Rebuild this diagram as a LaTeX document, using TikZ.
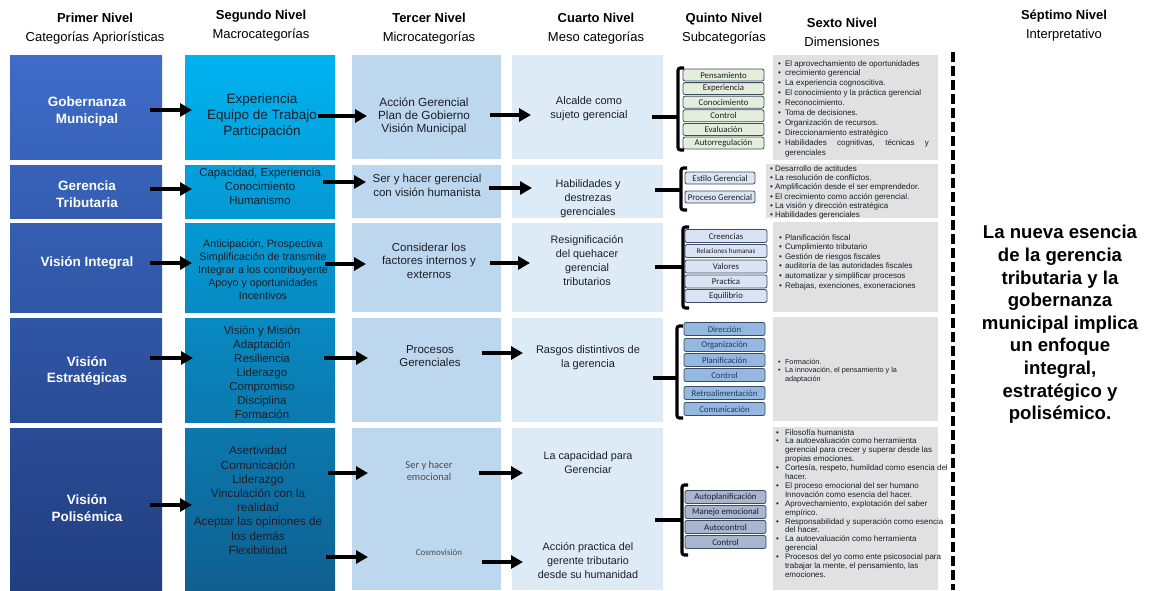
\documentclass[tikz,border=0pt]{standalone}
\usepackage{fontspec}
\setmainfont{Liberation Sans}
\newfontfamily\carl{Carlito}
\usetikzlibrary{arrows.meta,fit}
\definecolor{C1T}{RGB}{62,108,200}
\definecolor{C1B}{RGB}{33,62,128}
\definecolor{C2T}{RGB}{0,178,240}
\definecolor{C2B}{RGB}{16,96,145}
\definecolor{C3}{RGB}{189,215,238}
\definecolor{C4}{RGB}{221,235,247}
\definecolor{C6}{RGB}{225,225,225}
\definecolor{TXT}{RGB}{28,30,40}
\definecolor{SBd}{RGB}{60,75,100}
\definecolor{Q1}{RGB}{227,239,218}
\definecolor{Q2}{RGB}{220,230,242}
\definecolor{Q3}{RGB}{218,227,243}
\definecolor{Q4}{RGB}{149,184,224}
\definecolor{Q5}{RGB}{168,182,208}
\definecolor{Q4T}{RGB}{31,56,100}
\newcommand{\fs}[2]{\fontsize{#1}{#2}\selectfont}
\newcommand{\bu}[1]{\makebox[#1][l]{\textbullet}}
\newcommand{\sxt}[3]{\vtop{\fs{#1}{#2}\hsize=180pt\parindent=0pt\parskip=0pt #3}}
\begin{document}
\begin{tikzpicture}[x=1pt,y=-1pt,
  every node/.style={inner sep=0pt, outer sep=0pt},
  cA/.style n args={2}{inner sep=0pt, top color=C1B!#1!C1T, bottom color=C1B!#2!C1T},
  cB/.style n args={2}{inner sep=0pt, top color=C2B!#1!C2T, bottom color=C2B!#2!C2T},
  cC/.style={inner sep=0pt, fill=C3},
  cD/.style={inner sep=0pt, fill=C4},
  cF/.style={inner sep=0pt, fill=C6},
  hdr/.style={align=center, font=\fs{13}{19}},
  tA/.style={align=center, text=white, font=\fs{13.5}{16.5}\bfseries},
  tB/.style={align=center, text=TXT},
  arr/.style={line width=4.2pt, -{Triangle[length=12pt,width=13pt]}},
  brk/.style={line width=3.2pt, rounded corners=2.5pt},
  qbox/.style={draw=SBd, line width=0.8pt, rounded corners=2pt, inner sep=0pt, text=TXT, font=\carl\fs{8.8}{10}},
  sixt/.style={anchor=base west, text=TXT}
]
\useasboundingbox (0,0) rectangle (1158,590);
\fill[white] (0,0) rectangle (1158,590);

% headers
\node[hdr] (h1) at (95,28.5) {\textbf{Primer Nivel}\\Categorías Apriorísticas};
\node[hdr] (h2) at (261,26) {\textbf{Segundo Nivel}\\Macrocategorías};
\node[hdr] (h3) at (429,28.5) {\textbf{Tercer Nivel}\\Microcategorías};
\node[hdr] (h4) at (596,28.5) {\textbf{Cuarto Nivel}\\Meso categorías};
\node[hdr] (h5) at (724,28.5) {\textbf{Quinto Nivel}\\Subcategorías};
\node[hdr] (h6) at (842,32.5) {\textbf{Sexto Nivel}\\Dimensiones};
\node[hdr] (h7) at (1064,26) {\textbf{Séptimo Nivel}\\Interpretativo};

% column 1
\node[cA={0}{19}, fit={(10,55)(162,159)}] (p1) {};
\node[cA={21}{31}, fit={(10,165)(162,218)}] (p2) {};
\node[cA={31}{48}, fit={(10,223)(162,312)}] (p3) {};
\node[cA={49}{69}, fit={(10,318)(162,422)}] (p4) {};
\node[cA={70}{100}, fit={(10,428)(162,590)}] (p5) {};
% column 2
\node[cB={0}{19}, fit={(185,55)(335,159)}] (m1) {};
\node[cB={21}{31}, fit={(185,165)(335,218)}] (m2) {};
\node[cB={31}{48}, fit={(185,223)(335,312)}] (m3) {};
\node[cB={49}{69}, fit={(185,318)(335,422)}] (m4) {};
\node[cB={70}{100}, fit={(185,428)(335,590)}] (m5) {};
% column 3
\node[cC, fit={(352,55)(501,159)}] (c1) {};
\node[cC, fit={(352,165)(501,218)}] (c2) {};
\node[cC, fit={(352,223)(501,312)}] (c3) {};
\node[cC, fit={(352,318)(501,422)}] (c4) {};
\node[cC, fit={(352,428)(501,590)}] (c5) {};
% column 4
\node[cD, fit={(512,55)(663,159)}] (d1) {};
\node[cD, fit={(512,165)(663,218)}] (d2) {};
\node[cD, fit={(512,223)(663,312)}] (d3) {};
\node[cD, fit={(512,318)(663,422)}] (d4) {};
\node[cD, fit={(512,428)(663,590)}] (d5) {};
% column 6
\node[cF, fit={(773,55)(938,160)}] (s1) {};
\node[cF, fit={(766,164)(938,218)}] (s2) {};
\node[cF, fit={(773,222)(938,312)}] (s3) {};
\node[cF, fit={(773,317)(938,421)}] (s4) {};
\node[cF, fit={(773,427)(938,590)}] (s5) {};

% column 1 texts
\node[tA] (pt1) at (87,111.5) {Gobernanza\\Municipal};
\node[tA] (pt2) at (87,194) {Gerencia\\Tributaria};
\node[tA] (pt3) at (87,263) {Visión Integral};
\node[tA] (pt4) at (87,371) {Visión\\Estratégicas};
\node[tA] (pt5) at (87,508) {Visión\\Polisémica};

% column 2 texts
\node[tB, font=\fs{13.5}{16}] (mt1) at (262,116) {Experiencia\\Equipo de Trabajo\\Participación};
\node[tB, font=\fs{11.5}{14}] (mt2) at (260,186) {Capacidad, Experiencia\\Conocimiento\\Humanismo};
\node[tB, font=\fs{10.7}{13}] (mt3) at (263,270) {Anticipación, Prospectiva\\Simplificación de transmite\\Integrar a los contribuyente\\Apoyo y oportunidades\\Incentivos};
\node[tB, font=\fs{11.5}{14}] (mt4) at (262,372.5) {Visión y Misión\\Adaptación\\Resiliencia\\Liderazgo\\Compromiso\\Disciplina\\Formación};
\node[tB, font=\fs{11.7}{14.2}] (mt5) at (258,500.5) {Asertividad\\Comunicación\\Liderazgo\\Vinculación con la\\realidad\\Aceptar las opiniones de\\los demás\\Flexibilidad};

% column 3 texts
\node[tB, font=\fs{11.8}{13}] (ct1) at (424,116) {Acción Gerencial\\Plan de Gobierno\\Visión Municipal};
\node[tB, font=\fs{11.5}{14}] (ct2) at (427,185) {Ser y hacer gerencial\\con visión humanista};
\node[tB, font=\fs{11.5}{13.5}] (ct3) at (429,260.5) {Considerar los\\factores internos y\\externos};
\node[tB, font=\fs{11.5}{13}] (ct4) at (430,356.5) {Procesos\\Gerenciales};
\node[align=center, text=black!70, font=\carl\fs{10.5}{12}] (ct5a) at (429,471) {Ser y hacer\\emocional};
\node[align=center, text=black!70, font=\carl\fs{9}{11}] (ct5b) at (439,552) {Cosmovisión};

% column 4 texts
\node[tB, font=\fs{11}{14}] (dt1) at (589,109) {Alcalde como\\sujeto gerencial};
\node[tB, font=\fs{10.8}{14}] (dt2) at (588,199) {Habilidades y\\destrezas\\gerenciales};
\node[tB, font=\fs{10.8}{14}] (dt3) at (587,261) {Resignificación\\del quehacer\\gerencial\\tributarios};
\node[tB, font=\fs{11}{14.5}] (dt4) at (588,357.5) {Rasgos distintivos de\\la gerencia};
\node[tB, font=\fs{10.8}{13.5}] (dt5a) at (588,462.5) {La capacidad para\\Gerenciar};
\node[tB, font=\fs{10.8}{14}] (dt5b) at (588,561) {Acción practica del\\gerente tributario\\desde su humanidad};

% arrows
\coordinate (a1s) at (150,110); \coordinate (a1e) at (192,110);
\coordinate (b1s) at (318,116); \coordinate (b1e) at (367,116);
\coordinate (c1s) at (490,115); \coordinate (c1e) at (531,115);
\coordinate (a2s) at (150,189); \coordinate (a2e) at (192,189);
\coordinate (b2s) at (323,182); \coordinate (b2e) at (366,182);
\coordinate (c2s) at (489,188); \coordinate (c2e) at (532,188);
\coordinate (a3s) at (150,263); \coordinate (a3e) at (192,263);
\coordinate (b3s) at (325,264); \coordinate (b3e) at (366,264);
\coordinate (c3s) at (490,263); \coordinate (c3e) at (530,263);
\coordinate (a4s) at (150,358); \coordinate (a4e) at (193,358);
\coordinate (b4s) at (324,358); \coordinate (b4e) at (368,358);
\coordinate (c4s) at (482,353); \coordinate (c4e) at (523,353);
\coordinate (a5s) at (150,505); \coordinate (a5e) at (192,505);
\coordinate (b5s) at (328,473); \coordinate (b5e) at (368,473);
\coordinate (b6s) at (326,557); \coordinate (b6e) at (368,557);
\coordinate (c5s) at (479,473); \coordinate (c5e) at (523,473);
\coordinate (c6s) at (482,562); \coordinate (c6e) at (523,562);
\foreach \s in {a1,b1,c1,a2,b2,c2,a3,b3,c3,a4,b4,c4,a5,b5,b6,c5,c6}
  \draw[arr] (\s s) -- (\s e);

% brackets
\coordinate (k1s) at (652,117); \coordinate (k1m) at (678,117);
\coordinate (k2s) at (655,190); \coordinate (k2m) at (681,190);
\coordinate (k3s) at (655,267); \coordinate (k3m) at (683,267);
\coordinate (k4s) at (653,378); \coordinate (k4m) at (677,378);
\coordinate (k5s) at (655,520); \coordinate (k5m) at (682,520);
\foreach \k in {k1,k2,k3,k4,k5} \draw[brk] (\k s) -- (\k m);
\draw[brk] (684,68) -- (678,68) -- (678,150) -- (684,150);
\draw[brk] (687,168) -- (681,168) -- (681,210) -- (687,210);
\draw[brk] (689,227) -- (683,227) -- (683,308) -- (689,308);
\draw[brk] (683,326) -- (677,326) -- (677,418) -- (683,418);
\draw[brk] (688,485) -- (682,485) -- (682,555) -- (688,555);

% fifth level boxes
\foreach \t [count=\i] in {Pensamiento,Experiencia,Conocimiento,Control,Evaluación,Autorregulación}
  \node[qbox, fill=Q1, minimum width=81pt, minimum height=12pt] (q1\i) at (723.5,{75+13.6*(\i-1)}) {\t};
\node[qbox, fill=Q2, minimum width=70pt, minimum height=12pt] (q21) at (720,178) {Estilo Gerencial};
\node[qbox, fill=Q2, minimum width=70pt, minimum height=12pt] (q22) at (720,197) {Proceso Gerencial};
\node[qbox, fill=Q3, minimum width=82pt, minimum height=13pt] (q31) at (726,236) {Creencias};
\node[qbox, fill=Q3, minimum width=82pt, minimum height=13pt, font=\carl\fs{7.1}{9}] (q32) at (726,251) {Relaciones humanas};
\node[qbox, fill=Q3, minimum width=82pt, minimum height=13pt] (q33) at (726,266.5) {Valores};
\node[qbox, fill=Q3, minimum width=82pt, minimum height=13pt] (q34) at (726,281.5) {Practica};
\node[qbox, fill=Q3, minimum width=82pt, minimum height=13pt] (q35) at (726,296) {Equilibrio};
\node[qbox, fill=Q4, text=Q4T, minimum width=81pt, minimum height=13pt] (q41) at (724.5,329) {Dirección};
\node[qbox, fill=Q4, text=Q4T, minimum width=81pt, minimum height=13pt] (q42) at (724.5,345) {Organización};
\node[qbox, fill=Q4, text=Q4T, minimum width=81pt, minimum height=13pt] (q43) at (724.5,360) {Planificación};
\node[qbox, fill=Q4, text=Q4T, minimum width=81pt, minimum height=13pt] (q44) at (724.5,375) {Control};
\node[qbox, fill=Q4, text=Q4T, minimum width=81pt, minimum height=13pt] (q45) at (724.5,393) {Retroalimentación};
\node[qbox, fill=Q4, text=Q4T, minimum width=81pt, minimum height=13pt] (q46) at (724.5,409) {Comunicación};
\foreach \t [count=\i] in {Autoplanificación,Manejo emocional,Autocontrol,Control}
  \node[qbox, fill=Q5, minimum width=81pt, minimum height=13pt] (q5\i) at (725.5,{497+15*(\i-1)}) {\t};

% sixth level texts
\node[sixt] (x1) at (778,66) {\sxt{8}{9.9}{%
\bu{7pt}El aprovechamiento de oportunidades\par
\bu{7pt}crecimiento gerencial\par
\bu{7pt}La experiencia cognoscitiva.\par
\bu{7pt}El conocimiento y la práctica gerencial\par
\bu{7pt}Reconocimiento.\par
\bu{7pt}Toma de decisiones.\par
\bu{7pt}Organización de recursos.\par
\bu{7pt}Direccionamiento estratégico\par
\bu{7pt}\hbox to 144pt{Habilidades\hfil cognitivas,\hfil técnicas\hfil y}\par
\hspace*{7pt}gerenciales}};
\begin{scope}
\clip (760,160) rectangle (945,219.5);
\node[sixt] (x2) at (770,171.5) {\sxt{8}{9.2}{%
\bu{5pt}Desarrollo de actitudes\par
\bu{5pt}La resolución de conflictos.\par
\bu{5pt}Amplificación desde el ser emprendedor.\par
\bu{5pt}El crecimiento como acción gerencial.\par
\bu{5pt}La visión y dirección estratégica\par
\bu{5pt}Habilidades gerenciales}};
\end{scope}
\node[sixt] (x3) at (779,240) {\sxt{8}{9.6}{%
\bu{6pt}Planificación fiscal\par
\bu{6pt}Cumplimiento tributario\par
\bu{6pt}Gestión de riesgos fiscales\par
\bu{6pt}auditoría de las autoridades fiscales\par
\bu{6pt}automatizar y simplificar procesos\par
\bu{6pt}Rebajas, exenciones, exoneraciones}};
\node[sixt] (x4) at (778,364) {\sxt{7.3}{8.5}{%
\bu{7pt}Formación.\par
\bu{7pt}La innovación, el pensamiento y la\par
\hspace*{7pt}adaptación}};
\node[sixt] (x5) at (776,435) {\sxt{8}{8.9}{%
\bu{9pt}Filosofía humanista\par
\bu{9pt}La autoevaluación como herramienta\par
\hspace*{9pt}gerencial para crecer y superar desde las\par
\hspace*{9pt}propias emociones.\par
\bu{9pt}Cortesía, respeto, humildad como esencia del\par
\hspace*{9pt}hacer.\par
\bu{9pt}El proceso emocional del ser humano\par
\hspace*{9pt}Innovación como esencia del hacer.\par
\bu{9pt}Aprovechamiento, explotación del saber\par
\hspace*{9pt}empírico.\par
\bu{9pt}Responsabilidad y superación como esencia\par
\hspace*{9pt}del hacer.\par
\bu{9pt}La autoevaluación como herramienta\par
\hspace*{9pt}gerencial\par
\bu{9pt}Procesos del yo como ente psicosocial para\par
\hspace*{9pt}trabajar la mente, el pensamiento, las\par
\hspace*{9pt}emociones.}};

% dashed separator
\coordinate (dl1) at (953,52); \coordinate (dl2) at (953,590);
\draw[line width=4.5pt, dash pattern=on 10pt off 4pt] (dl1) -- (dl2);

% seventh level
\node[align=center, font=\fs{18.6}{22.6}\bfseries] (sep) at (1060,324.5) {La nueva esencia\\de la gerencia\\tributaria y la\\gobernanza\\municipal implica\\un enfoque\\integral,\\estratégico y\\polisémico.};
\end{tikzpicture}
\end{document}
